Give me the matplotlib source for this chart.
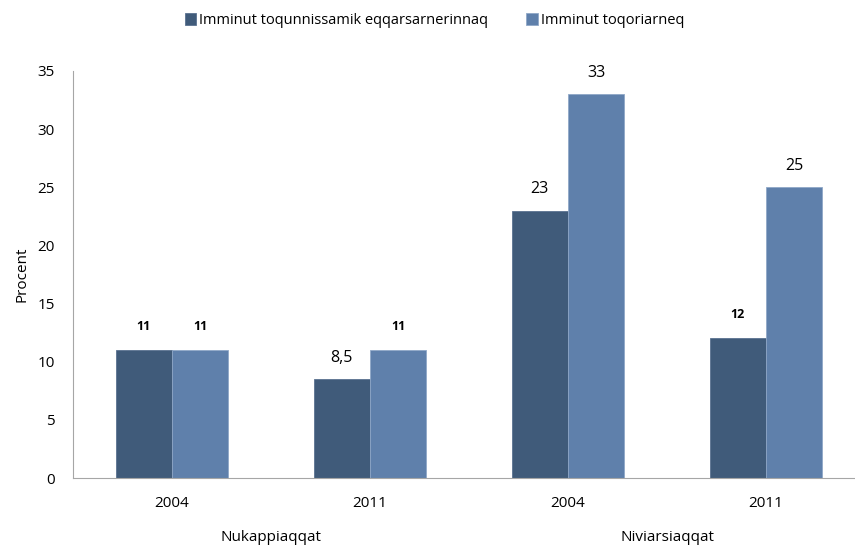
import matplotlib
matplotlib.use("Agg")
import matplotlib.pyplot as plt
import numpy as np

plt.rcParams['font.family'] = ['Open Sans', 'DejaVu Sans']

years = ["2004", "2011", "2004", "2011"]
groups = ["Nukappiaqqat", "Niviarsiaqqat"]
series_names = ["Imminut toqunnissamik eqqarsarnerinnaq", "Imminut toqoriarneq"]
series1 = [11, 8.5, 23, 12]
series2 = [11, 11, 33, 25]
labels1 = ["11", "8,5", "23", "12"]
labels2 = ["11", "11", "33", "25"]
colors = ["#405B7A", "#5F80AB"]

W, H = 855, 547
fig = plt.figure(figsize=(W / 100, H / 100), dpi=100)
ax = fig.add_axes([73 / W, 69 / H, (W - 73) / W, 407 / H])

x = np.arange(len(years))
bw = 0.285
b1 = ax.bar(x - bw / 2, series1, bw, color=colors[0], label=series_names[0], edgecolor="#5A7290", linewidth=0.6)
b2 = ax.bar(x + bw / 2, series2, bw, color=colors[1], label=series_names[1], edgecolor="#8FA8C8", linewidth=0.6)

big = {"8,5", "23", "33", "25"}
for bars, labs in ((b1, labels1), (b2, labels2)):
    for r, lab in zip(bars, labs):
        if lab in big:
            ax.annotate(lab, (r.get_x() + r.get_width() / 2, r.get_height()),
                        xytext=(0, 9.5), textcoords="offset points", ha="center", va="bottom",
                        fontsize=11.5, color="black")
        else:
            ax.annotate(lab, (r.get_x() + r.get_width() / 2, r.get_height()),
                        xytext=(0, 12.5), textcoords="offset points", ha="center", va="bottom",
                        fontsize=9, fontweight="bold", color="black")

ax.set_xlim(-0.5, -0.5 + (W - 73) / 198)
ax.set_ylim(0, 35)
ax.set_yticks(range(0, 36, 5))
ax.set_xticks(x)
ax.set_xticklabels(years)
ax.tick_params(axis="both", length=0, labelsize=11)
ax.tick_params(axis="x", pad=13)
ax.tick_params(axis="y", pad=13)
for s in ["top", "right"]:
    ax.spines[s].set_visible(False)
for s in ["left", "bottom"]:
    ax.spines[s].set_color("#A6A6A6")
ax.set_ylabel("Procent", fontsize=11, labelpad=6)

for i, g in enumerate(groups):
    ax.text(2 * i + 0.5, -0.145, g, transform=ax.get_xaxis_transform(), ha="center", va="center", fontsize=11)

leg = fig.legend(loc="upper center", bbox_to_anchor=(0.508, 1.0), ncol=2, frameon=False,
                 fontsize=10.5, handlelength=0.8, handleheight=0.8, handletextpad=0.2, columnspacing=2.6)

fig.savefig("out.png", dpi=100)
